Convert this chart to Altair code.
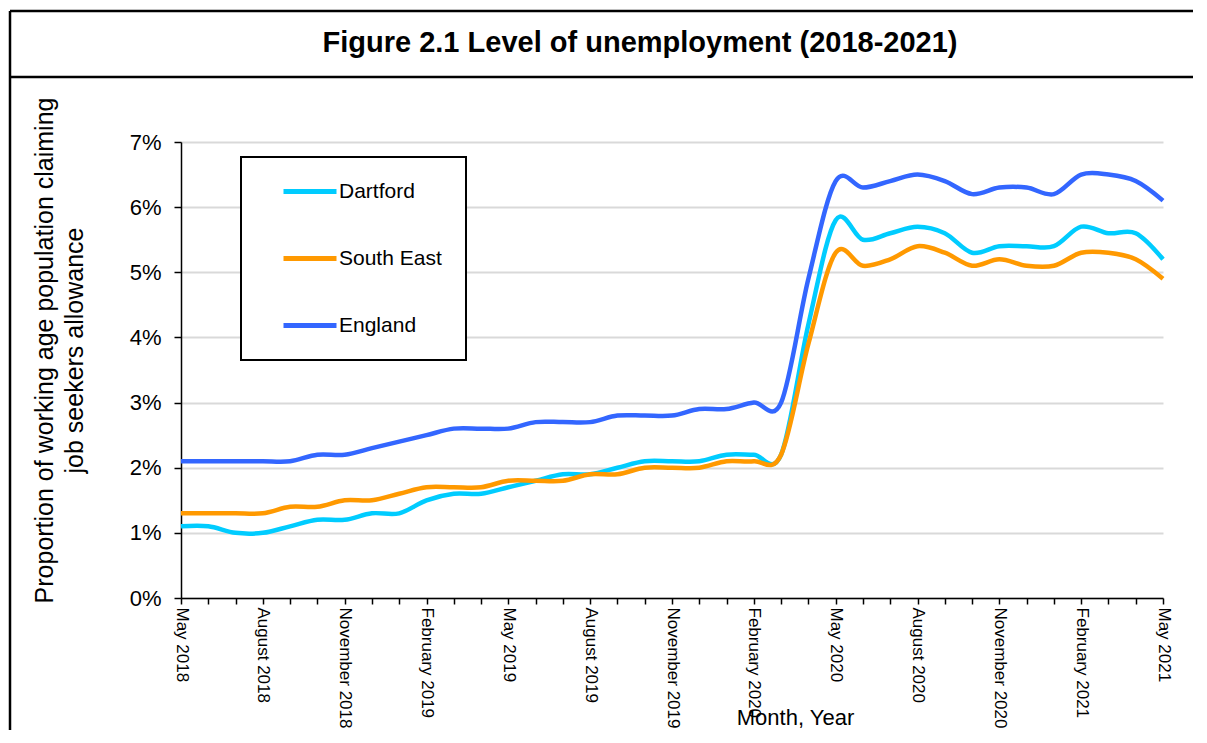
import altair as alt
import pandas as pd

# ---- data ----
month_names = ["January", "February", "March", "April", "May", "June", "July",
               "August", "September", "October", "November", "December"]
months = []
for y in (2018, 2019, 2020, 2021):
    for i, mn in enumerate(month_names):
        if (y == 2018 and i < 4) or (y == 2021 and i > 4):
            continue
        months.append(f"{mn} {y}")

series_names = ["Dartford", "South East", "England"]
series_colors = ["#00CCFF", "#FF9900", "#3366FF"]

dartford = [1.1, 1.1, 1.0, 1.0, 1.1, 1.2, 1.2, 1.3, 1.3, 1.5, 1.6, 1.6, 1.7,
            1.8, 1.9, 1.9, 2.0, 2.1, 2.1, 2.1, 2.2, 2.2, 2.2, 4.2, 5.8, 5.5,
            5.6, 5.7, 5.6, 5.3, 5.4, 5.4, 5.4, 5.7, 5.6, 5.6, 5.2]
south_east = [1.3, 1.3, 1.3, 1.3, 1.4, 1.4, 1.5, 1.5, 1.6, 1.7, 1.7, 1.7, 1.8,
              1.8, 1.8, 1.9, 1.9, 2.0, 2.0, 2.0, 2.1, 2.1, 2.2, 3.9, 5.3, 5.1,
              5.2, 5.4, 5.3, 5.1, 5.2, 5.1, 5.1, 5.3, 5.3, 5.2, 4.9]
england = [2.1, 2.1, 2.1, 2.1, 2.1, 2.2, 2.2, 2.3, 2.4, 2.5, 2.6, 2.6, 2.6,
           2.7, 2.7, 2.7, 2.8, 2.8, 2.8, 2.9, 2.9, 3.0, 3.0, 4.9, 6.4, 6.3,
           6.4, 6.5, 6.4, 6.2, 6.3, 6.3, 6.2, 6.5, 6.5, 6.4, 6.1]

y_ticks = [0, 1, 2, 3, 4, 5, 6, 7]
chart_title = "Figure 2.1 Level of unemployment (2018-2021)"
y_title = ["Proportion of working age population claiming", "job seekers allowance"]
x_title = "Month, Year"

rows = []
for name, vals in zip(series_names, [dartford, south_east, england]):
    for m, v in zip(months, vals):
        rows.append({"month": m, "value": v, "series": name})
df = pd.DataFrame(rows)

FONT = "Liberation Sans, Arial, sans-serif"

label_expr = ("indexof(['May','August','November','February'], "
              "split(datum.value, ' ')[0]) >= 0 ? datum.value : ''")

lines = alt.Chart(df).mark_line(strokeWidth=4.5, interpolate="cardinal").encode(
    x=alt.X("month:N", sort=months,
            scale=alt.Scale(type="point", padding=0),
            axis=alt.Axis(labelExpr=label_expr, labelAngle=90, labelAlign="left",
                          labelBaseline="middle", labelPadding=3, labelFontSize=17,
                          labelFont=FONT, labelColor="black", labelOverlap=False,
                          labelBound=False, tickSize=6, tickColor="black",
                          tickWidth=1.5, domainColor="black", domainWidth=1.5,
                          grid=False, title=x_title,
                          titleFont=FONT,
                          titleFontSize=22, titleFontWeight="normal",
                          titleColor="black", titleX=614, titleY=131,
                          titleAlign="center", titleBaseline="bottom")),
    y=alt.Y("value:Q", scale=alt.Scale(domain=[0, 7], nice=False),
            axis=alt.Axis(values=y_ticks, labelExpr="datum.value + '%'",
                          labelFontSize=22, labelFont=FONT, labelColor="black",
                          labelPadding=13, tickSize=7, tickColor="black",
                          tickWidth=1.5, domainColor="black", domainWidth=1.5,
                          gridColor="#D9D9D9", gridWidth=2,
                          title=y_title, titleFont=FONT, titleFontSize=25,
                          titleFontWeight="normal", titleColor="black",
                          titleLineHeight=30, titleAngle=270, titleX=-137,
                          titleY=208, titleAlign="center",
                          titleBaseline="middle")),
    color=alt.Color("series:N",
                    scale=alt.Scale(domain=series_names, range=series_colors),
                    legend=alt.Legend(title=None, orient="none", legendX=60,
                                      legendY=15, strokeColor="black",
                                      fillColor="white", padding=24,
                                      symbolType="stroke", symbolSize=2809,
                                      symbolStrokeWidth=5, symbolOffset=16,
                                      labelOffset=0, clipHeight=21,
                                      rowPadding=45, labelFontSize=21,
                                      labelFont=FONT, labelColor="black")),
)

one = pd.DataFrame({"k": [0]})
frame_top = alt.Chart(one).mark_rule(color="black", strokeWidth=2.5).encode(
    x=alt.value(-171), x2=alt.value(1040), y=alt.value(-131))
frame_mid = alt.Chart(one).mark_rule(color="black", strokeWidth=2.5).encode(
    x=alt.value(-171), x2=alt.value(1040), y=alt.value(-65))
frame_left = alt.Chart(one).mark_rule(color="black", strokeWidth=2.5).encode(
    x=alt.value(-171), y=alt.value(-131), y2=alt.value(620))

title_df = pd.DataFrame({"t": [chart_title]})
title = alt.Chart(title_df).mark_text(
    font=FONT, fontSize=29, fontWeight="bold", color="black",
    align="center", baseline="alphabetic").encode(
    x=alt.value(459), y=alt.value(-90), text="t:N")

chart = alt.layer(lines, frame_top, frame_mid, frame_left, title).properties(
    width=982, height=456,
    padding={"left": 173, "top": 134, "right": 30, "bottom": 132},
    autosize=alt.AutoSizeParams(type="none"),
    background="white",
).configure_view(stroke=None).configure_legend(strokeWidth=2)

chart.save("out.html", embed_options={"renderer": "svg", "actions": False})
